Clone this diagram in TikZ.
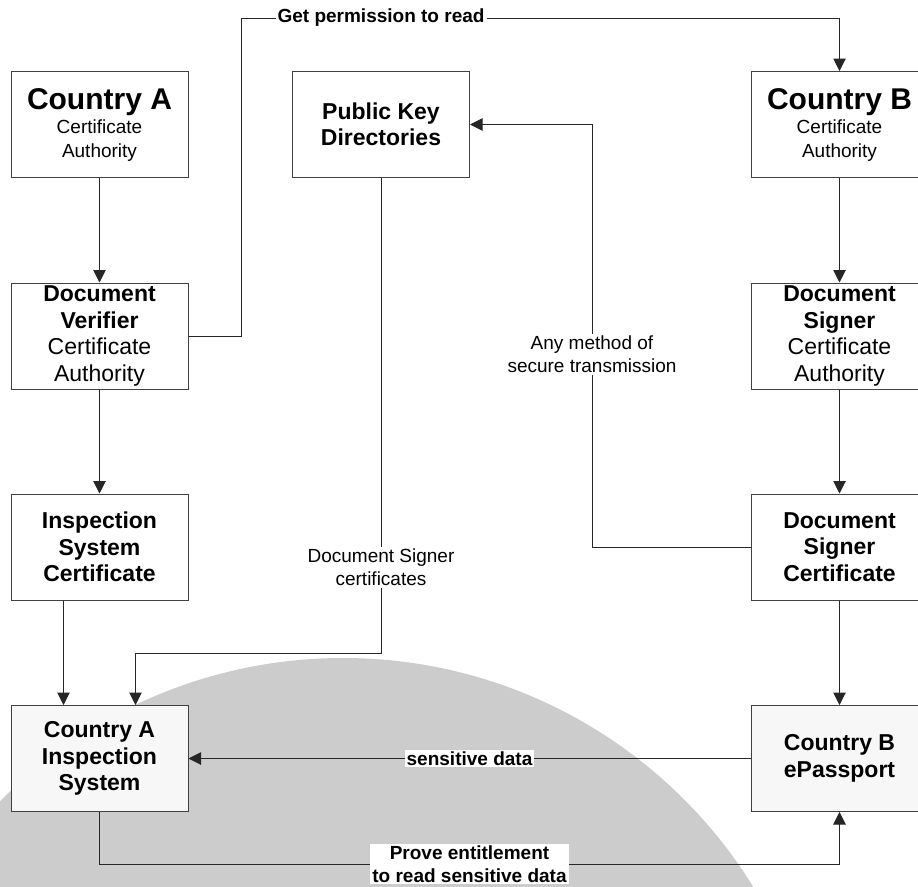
\documentclass[tikz,border=0pt]{standalone}
\usepackage{fontspec}
\setmainfont{Liberation Sans}
\usetikzlibrary{arrows.meta}

\tikzset{
	box/.style={draw=black!75, line width=1pt, fill=white, minimum width=177pt, minimum height=106pt, align=center, inner sep=0pt, font=\fontsize{23}{26.5}\selectfont},
	cabox/.style={box, font=\fontsize{19}{24}\selectfont},
	devbox/.style={box, fill=black!3, font=\fontsize{23}{26.5}\selectfont\bfseries},
	arr/.style={draw=black!85, line width=1pt, -{Triangle[width=12.5pt,length=12.5pt]}},
	lbl/.style={fill=white, align=center, inner sep=2pt, font=\fontsize{19}{23}\selectfont},
	blbl/.style={lbl, font=\fontsize{19}{23}\selectfont\bfseries}
}
\newcommand{\countrytxt}{\fontsize{30}{32}\selectfont\bfseries}

\begin{document}
\begin{tikzpicture}[x=1pt,y=-1pt]
		\useasboundingbox (0,0) rectangle (918,886);
		\clip (0,0) rectangle (918,886);
		%background disc
		\fill[black!20] (343,1140) circle (482);
		%boxes country A
		\node[cabox] (caa) at (99.5,124.5) {{\countrytxt Country A}\\Certificate\\Authority};
		\node[box] (dva) at (99.5,336) {\textbf{Document}\\\textbf{Verifier}\\Certificate\\Authority};
		\node[box, font=\fontsize{23}{26.5}\selectfont\bfseries] (isca) at (99.5,547) {Inspection\\System\\Certificate};
		\node[devbox] (insp) at (99.5,758.5) {Country A\\Inspection\\System};
		%middle
		\node[box, font=\fontsize{23}{26.5}\selectfont\bfseries] (pkd) at (381,124.5) {Public Key\\Directories};
		%boxes country B
		\node[cabox] (cab) at (839.5,124.5) {{\countrytxt Country B}\\Certificate\\Authority};
		\node[box] (dsb) at (839.5,336) {\textbf{Document}\\\textbf{Signer}\\Certificate\\Authority};
		\node[box, font=\fontsize{23}{26.5}\selectfont\bfseries] (dscb) at (839.5,547) {Document\\Signer\\Certificate};
		\node[devbox] (epass) at (839.5,758.5) {Country B\\ePassport};
		%bends
		\coordinate (permup) at (241,18);
		\coordinate (anyup) at (592,124.5);
		\coordinate (dsbend) at (381,653);
		\coordinate (provebase) at (0,864);
		%country A chain
		\draw[arr] (caa) -- (dva);
		\draw[arr] (dva) -- (isca);
		\draw[arr] ([xshift=-36pt]isca.south) -- ([xshift=-36pt]insp.north);
		%country B chain
		\draw[arr] (cab) -- (dsb);
		\draw[arr] (dsb) -- (dscb);
		\draw[arr] (dscb) -- (epass);
		%exchanges
		\draw[arr] (dva.east) -| (permup) -| node[blbl, pos=0.117] {Get permission to read} (cab.north);
		\draw[arr] (dscb.west) -| node[lbl, pos=0.728] {Any method of\\secure transmission} (anyup) -- (pkd.east);
		\draw[arr] (pkd.south) -- node[lbl, pos=0.82] {Document Signer\\certificates} (dsbend) -| ([xshift=36pt]insp.north);
		\draw[arr] (epass.west) -- node[blbl] {sensitive data} (insp.east);
		\draw[arr] (insp.south) -- (insp.south |- provebase) -| node[blbl, pos=0.25] {Prove entitlement\\to read sensitive data} (epass.south);
	\end{tikzpicture}
\end{document}
